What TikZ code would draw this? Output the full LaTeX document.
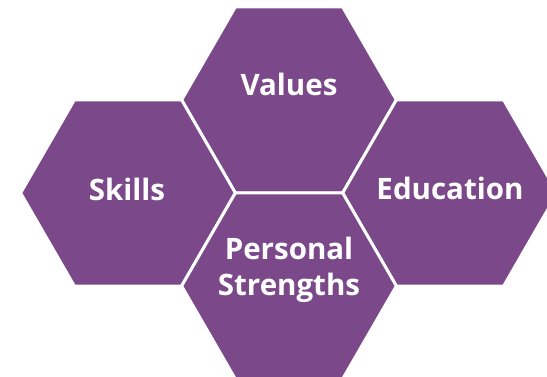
\documentclass[tikz,border=0pt]{standalone}
\usepackage{fontspec}
\setmainfont{Open Sans}
\usetikzlibrary{shapes.geometric}
\definecolor{hexpurple}{RGB}{123,73,138}
\tikzset{
  hexcell/.style={regular polygon, regular polygon sides=6, minimum size=214.8pt,
    inner sep=0pt, fill=hexpurple, draw=white, line width=3pt},
  hexlabel/.style={text=white, font=\fontsize{29.5}{36}\selectfont\bfseries,
    align=center, inner sep=0pt}
}
\begin{document}
\begin{tikzpicture}[x=1pt,y=1pt]
  \useasboundingbox (0,0) rectangle (547,377);
  \clip (0,0) rectangle (547,377);
  % honeycomb of four cells
  \node[hexcell] (values) at (289,277) {};
  \node[hexcell] (skills) at (128,184) {};
  \node[hexcell] (education) at (450,184) {};
  \node[hexcell] (personal) at (289,91) {};
  % cell captions
  \node[hexlabel, anchor=base] (tvalues) at (289,281) {Values};
  \node[hexlabel, anchor=base] (tskills) at (127,176) {Skills};
  \node[hexlabel, anchor=base] (teducation) at (450,177) {Education};
  \node[hexlabel] (tpersonal) at (289,107) {Personal\\Strengths};
\end{tikzpicture}
\end{document}
